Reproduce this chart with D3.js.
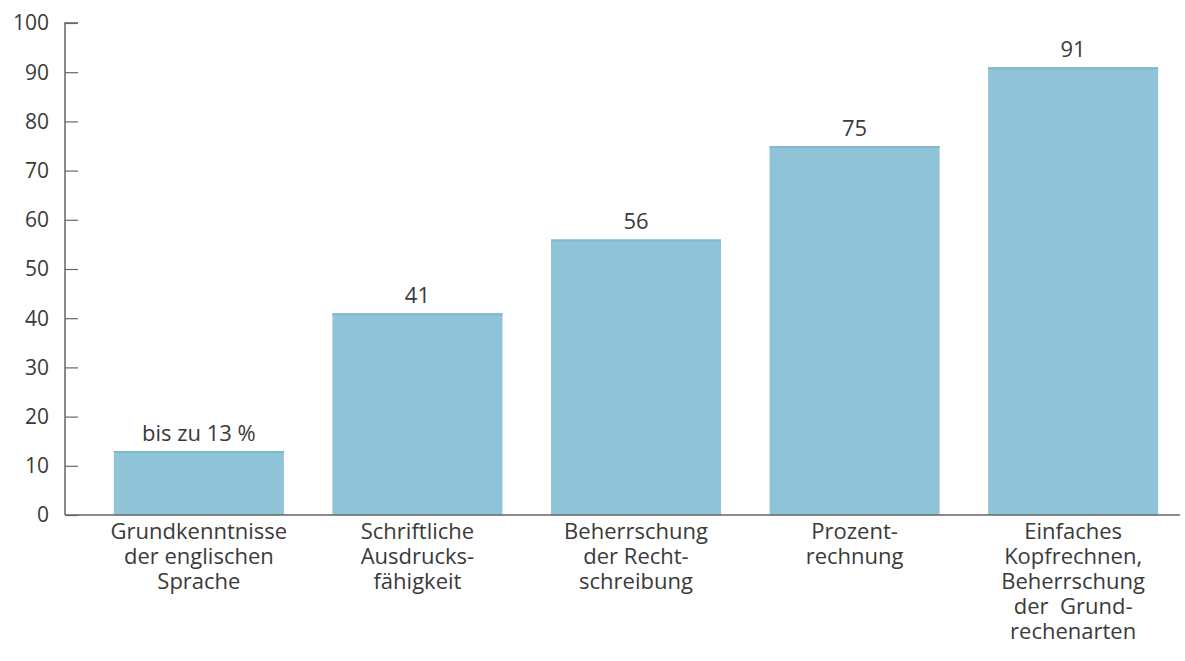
<!DOCTYPE html>
<html>
<head>
<meta charset="utf-8">
<script src="https://cdn.jsdelivr.net/npm/d3@7"></script>
<style>
  html, body { margin: 0; padding: 0; background: #ffffff; }
  svg text { font-family: "Open Sans", "Liberation Sans", sans-serif; fill: #3a3a3a; }
</style>
</head>
<body>
<svg id="chart" width="1185" height="661"></svg>
<script>
// Kategorien (mehrzeilige Beschriftung), Werte in Prozent und Balkenbeschriftungen
const categories = [
  ["Grundkenntnisse", "der englischen", "Sprache"],
  ["Schriftliche", "Ausdrucks-", "fähigkeit"],
  ["Beherrschung", "der Recht-", "schreibung"],
  ["Prozent-", "rechnung"],
  ["Einfaches", "Kopfrechnen,", "Beherrschung", "der  Grund-", "rechenarten"]
];
const values = [13, 41, 56, 75, 91];
const valueLabels = ["bis zu 13 %", "41", "56", "75", "91"];
const yTicks = [0, 10, 20, 30, 40, 50, 60, 70, 80, 90, 100];

const svg = d3.select("#chart");
const margin = { left: 65, right: 5, top: 23, bottom: 146 };
const width = 1185, height = 661;

const x = d3.scaleBand()
  .domain(d3.range(values.length))
  .range([margin.left + 27, width - margin.right])
  .paddingInner(0.222)
  .paddingOuter(0.1);

const y = d3.scaleLinear()
  .domain([0, 100])
  .range([height - margin.bottom, margin.top]);

// Balken
svg.append("g")
  .selectAll("rect")
  .data(values)
  .join("rect")
  .attr("x", (d, i) => x(i))
  .attr("y", d => y(d))
  .attr("width", x.bandwidth())
  .attr("height", d => y(0) - y(d))
  .attr("fill", "#8fc3d8");

// Oberkante der Balken etwas dunkler
svg.append("g")
  .selectAll("line")
  .data(values)
  .join("line")
  .attr("x1", (d, i) => x(i))
  .attr("x2", (d, i) => x(i) + x.bandwidth())
  .attr("y1", d => y(d) + 1)
  .attr("y2", d => y(d) + 1)
  .attr("stroke", "#80b8ce")
  .attr("stroke-width", 2);

// Werte über den Balken
svg.append("g")
  .selectAll("text")
  .data(values)
  .join("text")
  .attr("x", (d, i) => x(i) + x.bandwidth() / 2)
  .attr("y", d => y(d) - 10)
  .attr("text-anchor", "middle")
  .attr("font-size", 22)
  .text((d, i) => valueLabels[i]);

// y-Achse mit nach innen zeigenden Strichen
const yAxis = svg.append("g")
  .attr("transform", `translate(${margin.left},0)`)
  .call(d3.axisRight(y).tickValues(yTicks).tickSize(13).tickFormat(""));
yAxis.select(".domain").attr("stroke", "#666").attr("stroke-width", 1.5)
  .attr("d", `M13,${y(100)}H0V${y(0)}`);
yAxis.selectAll(".tick line").attr("stroke", "#666").attr("stroke-width", 1.2);

svg.append("g")
  .selectAll("text")
  .data(yTicks)
  .join("text")
  .attr("x", margin.left - 16)
  .attr("y", d => y(d))
  .attr("dy", "0.35em")
  .attr("text-anchor", "end")
  .attr("font-size", 21)
  .text(d => d);

// x-Achse
svg.append("line")
  .attr("x1", margin.left)
  .attr("x2", width - margin.right)
  .attr("y1", y(0))
  .attr("y2", y(0))
  .attr("stroke", "#666")
  .attr("stroke-width", 1.5);

// Kategorienbeschriftung
const catG = svg.append("g")
  .selectAll("text")
  .data(categories)
  .join("text")
  .attr("x", (d, i) => x(i) + x.bandwidth() / 2)
  .attr("y", y(0) + 24)
  .attr("text-anchor", "middle")
  .attr("font-size", 22);
catG.selectAll("tspan")
  .data((d, i) => d.map(line => ({ line, i })))
  .join("tspan")
  .attr("x", d => x(d.i) + x.bandwidth() / 2)
  .attr("dy", (d, j) => j === 0 ? 0 : 25)
  .style("white-space", "pre")
  .text(d => d.line);
</script>
</body>
</html>
